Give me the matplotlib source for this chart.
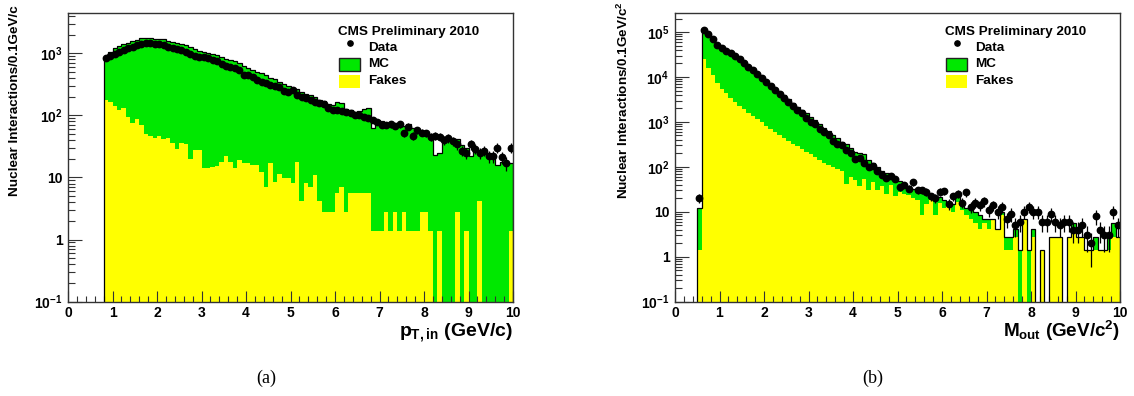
import matplotlib
matplotlib.use("Agg")
import matplotlib.pyplot as plt
import numpy as np
from matplotlib.patches import Rectangle
from matplotlib.ticker import FixedLocator, LogLocator, MultipleLocator, NullFormatter

BIN_WIDTH = 0.1

# p_T,in spectrum, bins of 0.1 GeV/c starting at 0.8
pt_first_edge = 0.8
pt_mc = [
    880, 1060, 1200, 1290, 1400, 1480, 1560, 1650, 1760, 1780,
    1760, 1720, 1720, 1700, 1560, 1500, 1480, 1420, 1340, 1240,
    1150, 1080, 1040, 1000, 970, 930, 860, 800, 780, 760,
    700, 620, 580, 540, 500, 480, 440, 400, 380, 350,
    320, 300, 280, 265, 240, 220, 215, 195, 180, 170,
    150, 145, 165, 160, 125, 120, 115, 118, 125, 130,
    62, 85, 80, 75, 73, 72, 70, 68, 72, 62,
    55, 52, 50, 45, 23, 25, 38, 40, 36, 42,
    33, 30, 22, 29, 27, 24, 25, 22, 16, 18,
    17, 17,
]
pt_fakes = [
    180, 165, 140, 122, 130, 95, 76, 86, 70, 51,
    47, 44, 47, 41, 44, 36, 29, 36, 35, 20,
    28, 28, 14, 14, 15, 15.5, 18, 22, 18, 14,
    19, 17, 17, 16, 16, 12.4, 7, 17, 8.5, 11.5,
    9.7, 9.7, 8.3, 18, 4.2, 8.3, 7, 11, 4.2, 2.8,
    2.8, 2.8, 5.6, 7, 2.8, 5.6, 5.6, 5.6, 5.6, 5.6,
    1.4, 1.4, 1.4, 2.8, 1.4, 2.8, 1.4, 2.8, 1.4, 1.4,
    1.4, 2.8, 2.8, 1.4, 0, 1.4, 0, 0, 0, 2.8,
    0, 1.4, 0, 0, 4.2, 0, 0, 0, 0, 0,
    0, 1.4,
]
pt_data = [
    830, 920, 990, 1060, 1130, 1200, 1270, 1340, 1420, 1450,
    1440, 1390, 1400, 1340, 1270, 1210, 1180, 1120, 1050, 970,
    910, 880, 860, 830, 780, 750, 670, 620, 600, 590,
    530, 450, 440, 410, 370, 350, 330, 310, 295, 285,
    250, 240, 255, 210, 200, 190, 180, 165, 160, 150,
    130, 120, 120, 118, 115, 110, 100, 100, 95, 92,
    85, 78, 70, 70, 72, 68, 72, 52, 66, 47,
    58, 53, 52, 45, 47, 45, 40, 43, 38, 34,
    27, 25, 34, 29, 25, 27, 22, 22, 30, 21,
    17, 30,
]

# M_out spectrum, bins of 0.1 GeV/c^2 starting at 0.5
m_first_edge = 0.5
m_mc = [
    12, 112000, 90000, 68000, 53000, 43000, 37000, 32000, 28000, 24000,
    20000, 17000, 14500, 12000, 10000, 8300, 6900, 5700, 4700, 3900,
    3300, 2700, 2200, 1850, 1550, 1300, 1080, 900, 740, 620,
    520, 430, 360, 330, 270, 220, 200, 190, 140, 120,
    100, 80, 75, 70, 58, 48, 44, 38, 33, 30,
    28, 25, 22, 20, 21, 18, 16, 15, 22, 14,
    12, 11, 9.8, 8.4, 7, 7, 7, 4.2, 9.8, 2.8,
    2.8, 4.2, 1.4, 7, 1.4, 4.2, 0, 1.4, 0, 2.8,
    2.8, 2.8, 0, 2.8, 5.6, 2.8, 2.8, 1.4, 1.4, 2.8,
    1.4, 1.4, 2.8, 5.6, 2.8,
]
m_fakes = [
    1.4, 25000, 16000, 11000, 7500, 5500, 4300, 3400, 2800, 2300,
    1900, 1600, 1350, 1150, 980, 820, 700, 600, 520, 440,
    380, 330, 290, 250, 220, 190, 165, 145, 125, 110,
    100, 88, 80, 42, 60, 50, 38, 55, 30, 45,
    30, 38, 25, 40, 22, 28, 25, 24, 20, 18,
    8.4, 15, 18, 8.4, 16, 12, 14, 9.8, 16.8, 11.2,
    8.4, 7, 5.6, 4.2, 5.6, 4.2, 7, 4.2, 8.4, 1.4,
    1.4, 2.8, 0, 7, 0, 2.8, 0, 1.4, 0, 2.8,
    2.8, 2.8, 0, 2.8, 4.2, 2.8, 2.8, 1.4, 1.4, 1.4,
    1.4, 1.4, 1.4, 2.8, 2.8,
]
m_data = [
    20, 112000, 92000, 70000, 52000, 45000, 38000, 34000, 29000, 25000,
    20500, 17000, 14000, 11500, 9500, 7800, 6300, 5100, 4100, 3400,
    2800, 2300, 1800, 1550, 1200, 1000, 900, 700, 600, 520,
    380, 330, 300, 240, 200, 150, 160, 125, 100, 105,
    80, 65, 58, 62, 55, 35, 40, 33, 45, 30,
    30, 28, 22, 20, 28, 29, 15, 22, 25, 16,
    27, 13, 16, 14, 17, 11, 14, 10, 13, 7,
    9, 5, 6, 10, 13, 10, 10, 6, 6, 9,
    6, 5, 6, 6, 4, 4, 5, 3, 2, 8,
    4, 3, 3, 10, 5,
]

GREEN = "#00e800"
YELLOW = "#ffff00"
FLOOR = 0.05

plt.rcParams["font.family"] = "Liberation Sans"
plt.rcParams["font.weight"] = "bold"
plt.rcParams["mathtext.fontset"] = "custom"
plt.rcParams["mathtext.rm"] = "Liberation Sans:bold"
plt.rcParams["mathtext.it"] = "Liberation Sans:bold"
plt.rcParams["mathtext.bf"] = "Liberation Sans:bold"
plt.rcParams["path.simplify"] = False

W, H = 1134, 396
fig = plt.figure(figsize=(W / 100, H / 100), dpi=100)


def px_axes(left, top, right, bottom):
    return fig.add_axes([left / W, 1 - bottom / H, (right - left) / W, (bottom - top) / H])


def fill_bins(ax, edges, values, color):
    # filled step histogram, empty bins sit on the floor below the axis
    vals = np.where(values > 0, values, FLOOR)
    ax.fill_between(edges, np.append(vals, vals[-1]), FLOOR, step="post",
                    color=color, lw=0, zorder=1)


def draw_panel(ax, first_edge, mc, fakes, data, ymax, yticks, ylabels):
    mc = np.asarray(mc, float)
    fakes = np.asarray(fakes, float)
    data = np.asarray(data, float)
    edges = first_edge + BIN_WIDTH * np.arange(len(mc) + 1)
    centers = 0.5 * (edges[1:] + edges[:-1])

    fill_bins(ax, edges, mc, GREEN)
    fill_bins(ax, edges, fakes, YELLOW)
    ax.stairs(np.maximum(mc, FLOOR), edges, baseline=FLOOR, color="black", lw=0.9, zorder=2)
    ax.errorbar(centers, data, yerr=np.sqrt(data), fmt="o", ms=4.6, color="black",
                elinewidth=0.9, capsize=0, zorder=5)

    ax.set_yscale("log")
    ax.set_xlim(0, 10)
    ax.set_ylim(0.1, ymax)
    ax.xaxis.set_major_locator(MultipleLocator(1))
    ax.xaxis.set_minor_locator(MultipleLocator(0.2))
    ax.yaxis.set_major_locator(FixedLocator(yticks))
    ax.yaxis.set_minor_locator(LogLocator(base=10, subs=np.arange(2, 10)))
    ax.yaxis.set_minor_formatter(NullFormatter())
    ax.set_yticks(yticks, ylabels)
    ax.tick_params(which="both", direction="in", top=False, right=False,
                   labelsize=10, color="#333333", width=0.8)
    ax.tick_params(axis="x", which="major", length=8, pad=3)
    ax.tick_params(axis="x", which="minor", length=4)
    ax.tick_params(axis="y", which="major", length=10, pad=4)
    ax.tick_params(axis="y", which="minor", length=5)
    for lab in ax.get_xticklabels() + ax.get_yticklabels():
        lab.set_fontweight("bold")
    for sp in ax.spines.values():
        sp.set_color("#333333")
        sp.set_linewidth(1.0)
        sp.set_zorder(6)

    # legend block
    tr = ax.transAxes
    ax.text(0.607, 0.934, "CMS Preliminary 2010", transform=tr, fontsize=9.7,
            fontweight="bold", ha="left", va="center")
    ax.plot([0.634], [0.894], "o", ms=3.8, color="black", transform=tr, clip_on=False)
    ax.text(0.674, 0.877, "Data", transform=tr, fontsize=9.7, fontweight="bold", va="center")
    ax.add_patch(Rectangle((0.609, 0.799), 0.047, 0.044, transform=tr,
                           facecolor=GREEN, edgecolor="#222222", lw=1.0))
    ax.text(0.674, 0.821, "MC", transform=tr, fontsize=9.7, fontweight="bold", va="center")
    ax.add_patch(Rectangle((0.609, 0.739), 0.047, 0.045, transform=tr,
                           facecolor=YELLOW, edgecolor="none"))
    ax.text(0.674, 0.764, "Fakes", transform=tr, fontsize=9.7, fontweight="bold", va="center")


ax_a = px_axes(68, 12.7, 513, 301.7)
draw_panel(ax_a, pt_first_edge, pt_mc, pt_fakes, pt_data, 4500,
           [0.1, 1, 10, 100, 1000],
           [r"$10^{-1}$", "1", "10", r"$10^{2}$", r"$10^{3}$"])

ax_b = px_axes(675, 12.7, 1120, 301.7)
draw_panel(ax_b, m_first_edge, m_mc, m_fakes, m_data, 2.7e5,
           [0.1, 1, 10, 100, 1e3, 1e4, 1e5],
           [r"$10^{-1}$", "1", "10", r"$10^{2}$", r"$10^{3}$", r"$10^{4}$", r"$10^{5}$"])

fig.text(513 / W, 1 - 336 / H, r"$p_{T,in}$ (GeV/c)", fontsize=14, fontweight="bold",
         ha="right", va="baseline")
fig.text(1120 / W, 1 - 337 / H, r"$M_{out}$ (GeV/c$^{2}$)", fontsize=13.6, fontweight="bold",
         ha="right", va="baseline")
fig.text(15 / W, 1 - 5 / H, "Nuclear Interactions/0.1GeV/c", rotation=90, fontsize=9.7,
         fontweight="bold", ha="center", va="top")
fig.text(623 / W, 1 - 1 / H, r"Nuclear Interactions/0.1GeV/c$^{2}$", rotation=90,
         fontsize=9.7, fontweight="bold", ha="center", va="top")

fig.text(266 / W, 1 - 378 / H, "(a)", family="Liberation Serif", fontweight="normal",
         fontsize=13, ha="center", va="center")
fig.text(873 / W, 1 - 378 / H, "(b)", family="Liberation Serif", fontweight="normal",
         fontsize=13, ha="center", va="center")

fig.savefig("out.png", dpi=100)
